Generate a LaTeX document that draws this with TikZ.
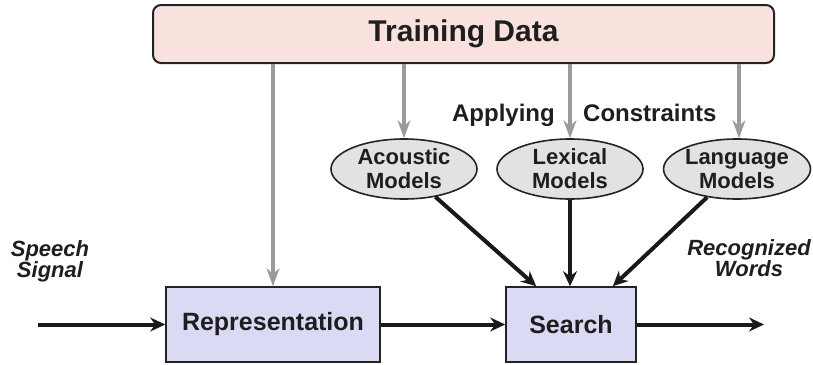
\documentclass[tikz,border=0pt]{standalone}
\usepackage{fontspec}
\setmainfont{Liberation Sans}
\usetikzlibrary{arrows.meta,shapes.geometric}
\definecolor{tdfill}{RGB}{249,226,222}
\definecolor{procfill}{RGB}{218,218,244}
\definecolor{modelfill}{RGB}{226,226,226}
\definecolor{grayline}{RGB}{155,155,155}
\definecolor{edge}{RGB}{35,35,35}
\definecolor{ink}{RGB}{30,30,30}
\tikzset{
  tdbox/.style={draw=edge, line width=2pt, fill=tdfill, rounded corners=8pt,
    font=\fontsize{30}{36}\selectfont\bfseries, text=ink},
  procbox/.style={draw=edge, line width=1.6pt, fill=procfill,
    font=\fontsize{25}{30}\selectfont\bfseries, text=ink},
  model/.style={ellipse, draw=edge, line width=1.6pt, fill=modelfill, inner sep=0pt,
    minimum width=146pt, minimum height=60pt, align=center,
    font=\fontsize{22}{24}\selectfont\bfseries, text=ink},
  plain/.style={font=\fontsize{24}{28}\selectfont\bfseries, text=ink, inner sep=0pt},
  ital/.style={font=\fontsize{22}{21}\selectfont\bfseries\itshape, align=center, text=ink, inner sep=0pt},
  grayarrow/.style={draw=grayline, line width=4pt, -{Stealth[length=18pt,width=13pt,inset=6pt]}},
  blackarrow/.style={draw=black!90, line width=4pt, -{Stealth[length=15pt,width=14pt,inset=5pt]}}
}
\begin{document}
\begin{tikzpicture}[x=1pt,y=-1pt]
\useasboundingbox (0,0) rectangle (813,364);
\node[tdbox, minimum width=621pt, minimum height=58pt] (td) at (463.5,34) {Training Data};
\node[procbox, minimum width=214pt, minimum height=75pt] (rep) at (273,324.5) {Representation};
\node[procbox, minimum width=130pt, minimum height=75pt] (se) at (571,324.5) {Search};
\node[model] (ac) at (404,169) {Acoustic\\Models};
\node[model] (lx) at (570,169) {Lexical\\Models};
\node[model] (lg) at (737,169) {Language\\Models};
\node[plain, anchor=base east] (ap) at (555,121) {Applying};
\node[plain, anchor=base west] (co) at (583,121) {Constraints};
\node[ital] (sp) at (50,261) {Speech\\Signal};
\node[ital] (rw) at (749,258) {Recognized\\Words};
\coordinate (in) at (38,324.5);
\coordinate (out) at (764,324.5);
% gray training arrows
\draw[grayarrow] (rep.north |- td.south) -- (rep.north);
\draw[grayarrow] (ac.north |- td.south) -- (ac.north);
\draw[grayarrow] (lx.north |- td.south) -- (lx.north);
\draw[grayarrow] ([xshift=2pt]lg.north |- td.south) -- ([xshift=2pt]lg.north);
% black arrows
\draw[blackarrow] (in) -- (rep.west);
\draw[blackarrow] (rep.east) -- (se.west);
\draw[blackarrow] (se.east) -- (out);
\draw[blackarrow] (ac) -- ([xshift=31pt]se.north west);
\draw[blackarrow] (lx.south) -- (lx.south |- se.north);
\draw[blackarrow] (lg) -- ([xshift=-24pt]se.north east);
\end{tikzpicture}
\end{document}
